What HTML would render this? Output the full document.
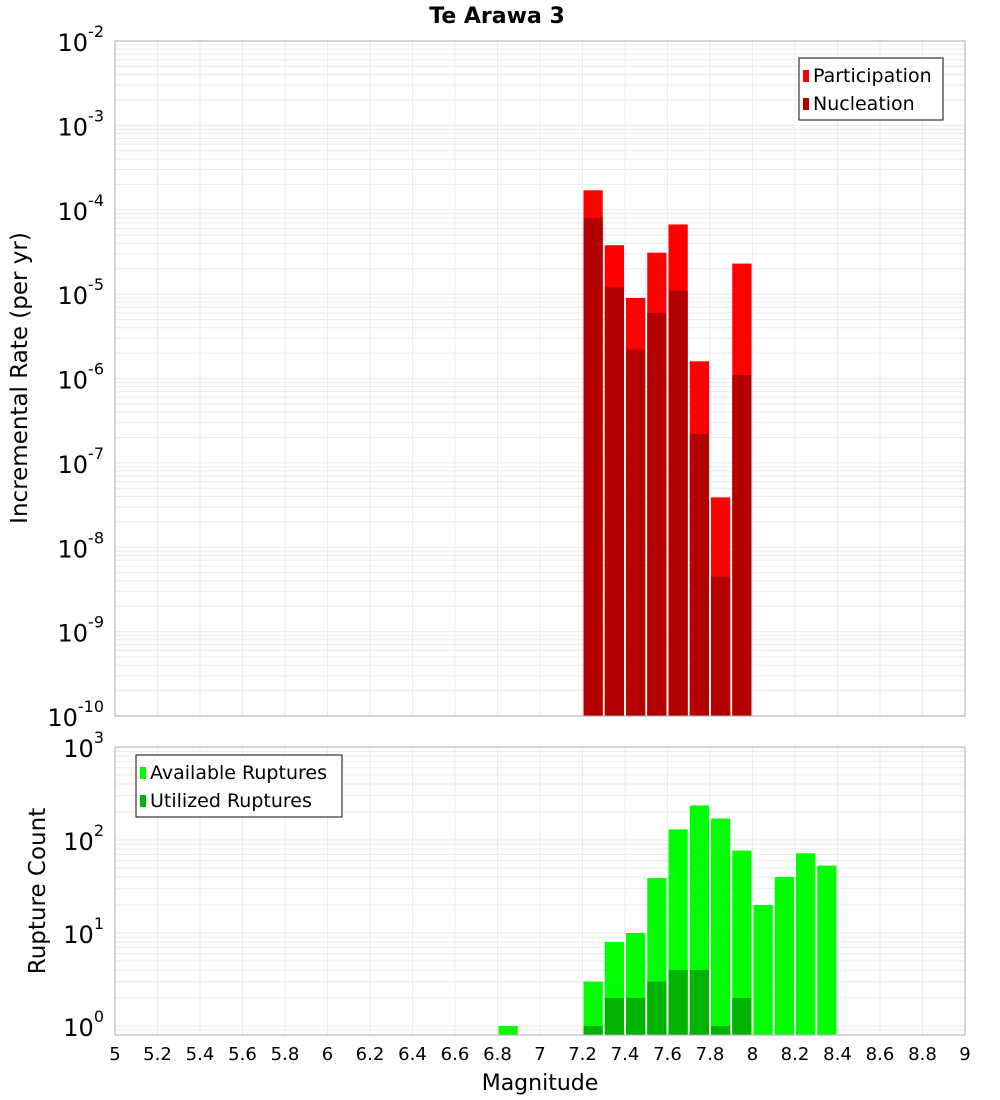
<!DOCTYPE html>
<html><head><meta charset="utf-8"><style>
html,body{margin:0;padding:0;background:#fff;}
svg{display:block;font-family:"Liberation Sans","DejaVu Sans",sans-serif;}
</style></head><body>
<svg id="chart" width="1000" height="1100" viewBox="0 0 1000 1100" xmlns="http://www.w3.org/2000/svg">
<text x="497" y="23" text-anchor="middle" font-size="22" font-weight="bold" font-family="DejaVu Sans, sans-serif">Te Arawa 3</text>
<g id="top"></g>
<g id="bot"></g>
</svg>
<script>
const magBins = [7.25,7.35,7.45,7.55,7.65,7.75,7.85,7.95];
const participation = [1.7e-4,3.8e-5,9e-6,3.1e-5,6.7e-5,1.6e-6,3.9e-8,2.3e-5];
const nucleation = [8e-5,1.2e-5,2.2e-6,6e-6,1.1e-5,2.2e-7,4.5e-9,1.1e-6];
const countBins = [6.85,7.25,7.35,7.45,7.55,7.65,7.75,7.85,7.95,8.05,8.15,8.25,8.35];
const available = [1,3,8,10,39,130,235,170,77,20,40,72,53];
const utilizedBins = [7.25,7.35,7.45,7.55,7.65,7.75,7.85,7.95];
const utilized = [1,2,2,3,4,4,1,2];
const xTicks = ["5","5.2","5.4","5.6","5.8","6","6.2","6.4","6.6","6.8","7","7.2","7.4","7.6","7.8","8","8.2","8.4","8.6","8.8","9"];

const NS="http://www.w3.org/2000/svg";
const X0=115,X1=965;
const x=m=>X0+(m-5)/4*(X1-X0);
function el(p,t,a){const e=document.createElementNS(NS,t);for(const k in a)e.setAttribute(k,a[k]);p.appendChild(e);return e;}

function panel(g,top,bottom,emax,emin,ybot,name){
  // emax/emin decade exponents; ybot = log value at bottom
  const ppd=(bottom-top)/(emax-ybot);
  const y=v=>top+(emax-Math.log10(v))*ppd;
  el(g,'rect',{x:X0,y:top,width:X1-X0,height:bottom-top,fill:'#fff'});
  for(let e=Math.floor(ybot);e<emax;e++){for(let k=1;k<10;k++){const v=k*Math.pow(10,e);const yy=y(v);if(yy>bottom||yy<top)continue;
    const l=el(g,'line',{x1:X0,x2:X1,y1:yy,y2:yy,stroke:'#ebebeb','stroke-width':1});
    }}
  xTicks.forEach(t=>{const xx=x(+t);const l=el(g,'line',{x1:xx,x2:xx,y1:top,y2:bottom,stroke:'#ebebeb','stroke-width':1});
    });
  for(let e=emin;e<=emax;e++){const yy=y(Math.pow(10,e));
    const t=el(g,'text',{x:104,y:yy+10,'text-anchor':'end','font-size':24,'font-family':'DejaVu Sans, sans-serif'});
    
    t.textContent='10';const s=el(t,'tspan',{dy:-14,'font-size':16});s.textContent=String(e);}
  return y;
}
function bars(g,y,bins,vals,color,bottom,name){
  bins.forEach((m,i)=>{const yy=Math.max(y(vals[i]),0);const r=el(g,'rect',{x:x(m-0.05)+1,y:yy,width:(x(0.1+5)-X0)-2,height:bottom-yy,fill:color});
    });
}
function frame(g,top,bottom){el(g,'rect',{x:X0,y:top,width:X1-X0,height:bottom-top,fill:'none',stroke:'#aaa','stroke-width':1});}
function legend(g,lx,ly,w,items,name){
  const b=el(g,'rect',{x:lx,y:ly,width:w,height:62,fill:'#fff',stroke:'#333','stroke-width':1.2});
  
  items.forEach((it,i)=>{const sw=el(g,'rect',{x:lx+4,y:ly+12+i*28,width:6,height:12,fill:it[1]});
    
    const t=el(g,'text',{x:lx+14,y:ly+24+i*28,'font-size':19,'font-family':'DejaVu Sans, sans-serif'});
    t.textContent=it[0];});
}
// top
const gt=document.getElementById('top');
const yt=panel(gt,41,716,-2,-10,-10,'rate');
bars(gt,yt,magBins,participation,'#ff0000',716,'participation-bar');
bars(gt,yt,magBins,nucleation,'#b30000',716,'nucleation-bar');
frame(gt,41,716);
legend(gt,799,58,144,[['Participation','#ff0000'],['Nucleation','#b30000']],'rate-legend');
const ytl=el(gt,'text',{x:27,y:378,'text-anchor':'middle','font-size':23,transform:'rotate(-90 27 378)','font-family':'DejaVu Sans, sans-serif'});
ytl.textContent='Incremental Rate (per yr)';
// bottom
const gb=document.getElementById('bot');
const yb=panel(gb,747,1035,3,0,-0.097,'count');
bars(gb,yb,countBins,available,'#00ff00',1035,'available-bar');
bars(gb,yb,utilizedBins,utilized,'#00b300',1035,'utilized-bar');
frame(gb,747,1035);
legend(gb,136,755,206,[['Available Ruptures','#00ff00'],['Utilized Ruptures','#00b300']],'count-legend');
const ybl=el(gb,'text',{x:45,y:891,'text-anchor':'middle','font-size':23,transform:'rotate(-90 45 891)','font-family':'DejaVu Sans, sans-serif'});
ybl.textContent='Rupture Count';
xTicks.forEach(t=>{const tx=el(gb,'text',{x:x(+t),y:1060,'text-anchor':'middle','font-size':18,'font-family':'DejaVu Sans, sans-serif'});
  tx.textContent=t;});
const xl=el(gb,'text',{x:540,y:1090,'text-anchor':'middle','font-size':22,'font-family':'DejaVu Sans, sans-serif'});
xl.textContent='Magnitude';
</script>
</body></html>
